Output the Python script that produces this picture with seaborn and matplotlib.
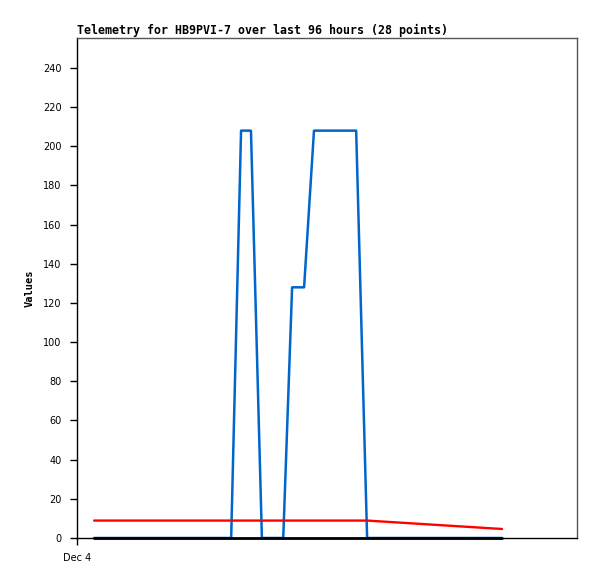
import matplotlib
matplotlib.use("Agg")
import matplotlib.pyplot as plt
import seaborn as sns
import pandas as pd

# hours since Dec 4 00:00
hours = [3.3, 29.6, 31.5, 33.4, 35.5, 39.6, 41.3, 43.6, 45.5, 53.6, 55.7, 81.6]
blue_vals = [0, 0, 208, 208, 0, 0, 128, 128, 208, 208, 0, 0]
red_vals = [8.9, 8.9, 8.9, 8.9, 8.9, 8.9, 8.9, 8.9, 8.9, 8.9, 8.9, 4.6]
black_vals = [0, 0, 0, 0, 0, 0, 0, 0, 0, 0, 0, 0]
x_tick_pos = [0]
x_tick_labels = ["Dec 4"]
y_ticks = [0, 20, 40, 60, 80, 100, 120, 140, 160, 180, 200, 220, 240]
title = "Telemetry for HB9PVI-7 over last 96 hours (28 points)"

df = pd.DataFrame({"hours": hours, "blue": blue_vals, "red": red_vals, "black": black_vals})

sns.set_style("white")
plt.rcParams["font.family"] = ["DejaVu Sans"]
plt.rcParams["text.color"] = "black"
plt.rcParams["axes.labelcolor"] = "black"
plt.rcParams["xtick.color"] = "black"
plt.rcParams["ytick.color"] = "black"

fig = plt.figure(figsize=(5.97, 5.79), dpi=100)
ax = fig.add_axes([77/597, 41/579, 500/597, 500/579])

sns.lineplot(data=df, x="hours", y="blue", ax=ax, color="#0066CC", linewidth=1.8, zorder=2, clip_on=False)
sns.lineplot(data=df, x="hours", y="red", ax=ax, color="#FF0000", linewidth=1.7, zorder=3, clip_on=False)
sns.lineplot(data=df, x="hours", y="black", ax=ax, color="#000000", linewidth=2.0, zorder=4, clip_on=False)

ax.set_xlim(0, 96)
ax.set_ylim(0, 255.3)
ax.set_yticks(y_ticks)
ax.set_yticklabels([str(v) for v in y_ticks], fontsize=7, color="black")
ax.set_xticks(x_tick_pos)
ax.set_xticklabels(x_tick_labels, fontsize=7, color="black")
ax.tick_params(axis="both", which="major", direction="out", length=5, width=1,
               color="black", pad=6, left=True, bottom=True)
ax.set_xlabel("")
ax.set_ylabel("Values", fontsize=7.5, fontweight="bold", family="DejaVu Sans Mono",
              labelpad=6, color="black")
ax.set_title(title, loc="left", fontsize=8.35, fontweight="bold", family="DejaVu Sans Mono",
             pad=3, color="black")

for s in ["left", "bottom"]:
    ax.spines[s].set_color("black")
    ax.spines[s].set_linewidth(1)
for s in ["top", "right"]:
    ax.spines[s].set_color("#555555")
    ax.spines[s].set_linewidth(1)
    ax.spines[s].set_visible(True)

fig.savefig("out.png", dpi=100)
